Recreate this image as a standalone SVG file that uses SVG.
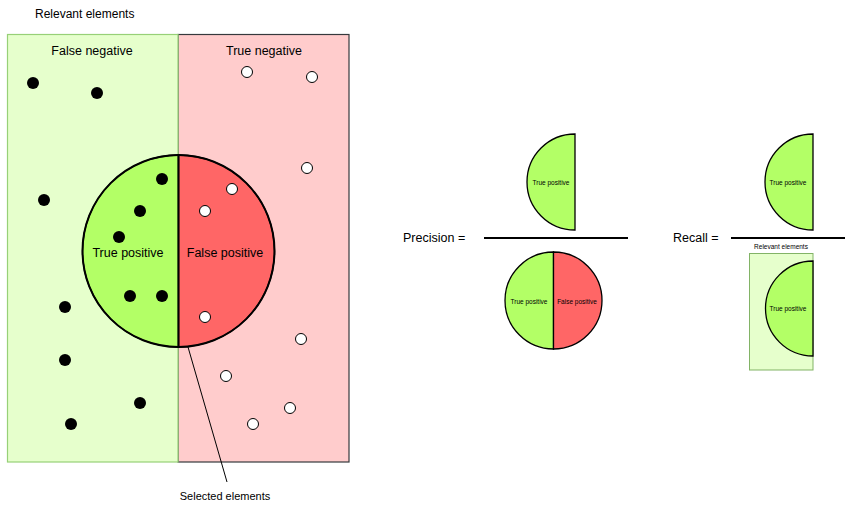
<svg xmlns="http://www.w3.org/2000/svg" width="845" height="506" viewBox="0 0 845 506">
<style>
text{font-family:"Liberation Sans",Arial,sans-serif;fill:#000}
.lbl{font-size:12.5px;text-anchor:middle}
.sm{font-size:6.5px;text-anchor:middle}
.bd{fill:#000}
.wd{fill:#fff;stroke:#000;stroke-width:1}
.tp{fill:#b3ff66;stroke:#000;stroke-width:1.3}
.fp{fill:#ff6666;stroke:#000;stroke-width:1.3}
</style>
<rect width="845" height="506" fill="#fff"/>
<text x="35" y="18" style="font-size:12px">Relevant elements</text>
<g id="true-negative">
<rect x="178" y="34.5" width="171" height="427.5" fill="#ffcccc" stroke="#36393d" stroke-width="1.2"/>
<text class="lbl" x="264" y="55">True negative</text>
</g>
<g id="false-negative">
<rect x="7.5" y="34.5" width="170.5" height="427.5" fill="#e6ffcc" stroke="#97d077" stroke-width="1.2"/>
<text class="lbl" x="92" y="55">False negative</text>
</g>
<g id="selected">
<path class="tp" d="M178.5,155 A96,96 0 0 0 178.5,347 Z"/>
<path class="fp" d="M178.5,155 A96,96 0 0 1 178.5,347 Z"/>
<path d="M178.5,155 A96,96 0 0 0 178.5,347 A96,96 0 0 0 178.5,155 Z" fill="none" stroke="#000" stroke-width="2"/>
<line x1="178.5" y1="155" x2="178.5" y2="347" stroke="#000" stroke-width="2"/>
<text class="lbl" x="128" y="257">True positive</text>
<text class="lbl" x="225" y="257">False positive</text>
</g>
<g id="dots-relevant">
<circle class="bd" cx="33" cy="83" r="6"/>
<circle class="bd" cx="97" cy="93" r="6"/>
<circle class="bd" cx="44" cy="200" r="6"/>
<circle class="bd" cx="162" cy="179" r="6"/>
<circle class="bd" cx="140" cy="211" r="6"/>
<circle class="bd" cx="119" cy="237" r="6"/>
<circle class="bd" cx="130" cy="296" r="6"/>
<circle class="bd" cx="162" cy="296" r="6"/>
<circle class="bd" cx="65" cy="307" r="6"/>
<circle class="bd" cx="65" cy="360" r="6"/>
<circle class="bd" cx="140" cy="403" r="6"/>
<circle class="bd" cx="71" cy="424" r="6"/>
</g>
<g id="dots-irrelevant">
<circle class="wd" cx="247" cy="72" r="5.5"/>
<circle class="wd" cx="312" cy="77" r="5.5"/>
<circle class="wd" cx="307" cy="168" r="5.5"/>
<circle class="wd" cx="232" cy="189" r="5.5"/>
<circle class="wd" cx="205" cy="211" r="5.5"/>
<circle class="wd" cx="205" cy="317" r="5.5"/>
<circle class="wd" cx="301" cy="339" r="5.5"/>
<circle class="wd" cx="226" cy="376" r="5.5"/>
<circle class="wd" cx="290" cy="408" r="5.5"/>
<circle class="wd" cx="253" cy="424" r="5.5"/>
</g>
<g id="connectors">
<line x1="188" y1="347" x2="227" y2="482" stroke="#000" stroke-width="1"/>
</g>
<text x="225" y="500" style="font-size:11px;text-anchor:middle">Selected elements</text>
<g id="precision">
<text x="403" y="242" style="font-size:12.5px">Precision =</text>
<line x1="484" y1="238" x2="628" y2="238" stroke="#000" stroke-width="2"/>
<path class="tp" d="M575,134 A48,48 0 0 0 575,230 Z"/>
<text class="sm" x="551" y="185">True positive</text>
<path class="tp" d="M553.5,252 A48.5,48.5 0 0 0 553.5,349 Z"/>
<path class="fp" d="M553.5,252 A48.5,48.5 0 0 1 553.5,349 Z"/>
<text class="sm" x="529" y="304">True positive</text>
<text class="sm" x="577" y="304">False positive</text>
</g>
<g id="recall">
<text x="673" y="242" style="font-size:12.5px">Recall =</text>
<line x1="731" y1="238" x2="845" y2="238" stroke="#000" stroke-width="2"/>
<path class="tp" d="M813,134 A48,48 0 0 0 813,230 Z"/>
<text class="sm" x="788" y="185">True positive</text>
<text class="sm" x="781" y="249">Relevant elements</text>
<rect x="749.5" y="253.5" width="63.5" height="116.5" fill="#e6ffcc" stroke="#82b366" stroke-width="1"/>
<path class="tp" d="M813,261 A47.5,47.5 0 0 0 813,356 Z"/>
<text class="sm" x="788" y="311">True positive</text>
</g>
</svg>
